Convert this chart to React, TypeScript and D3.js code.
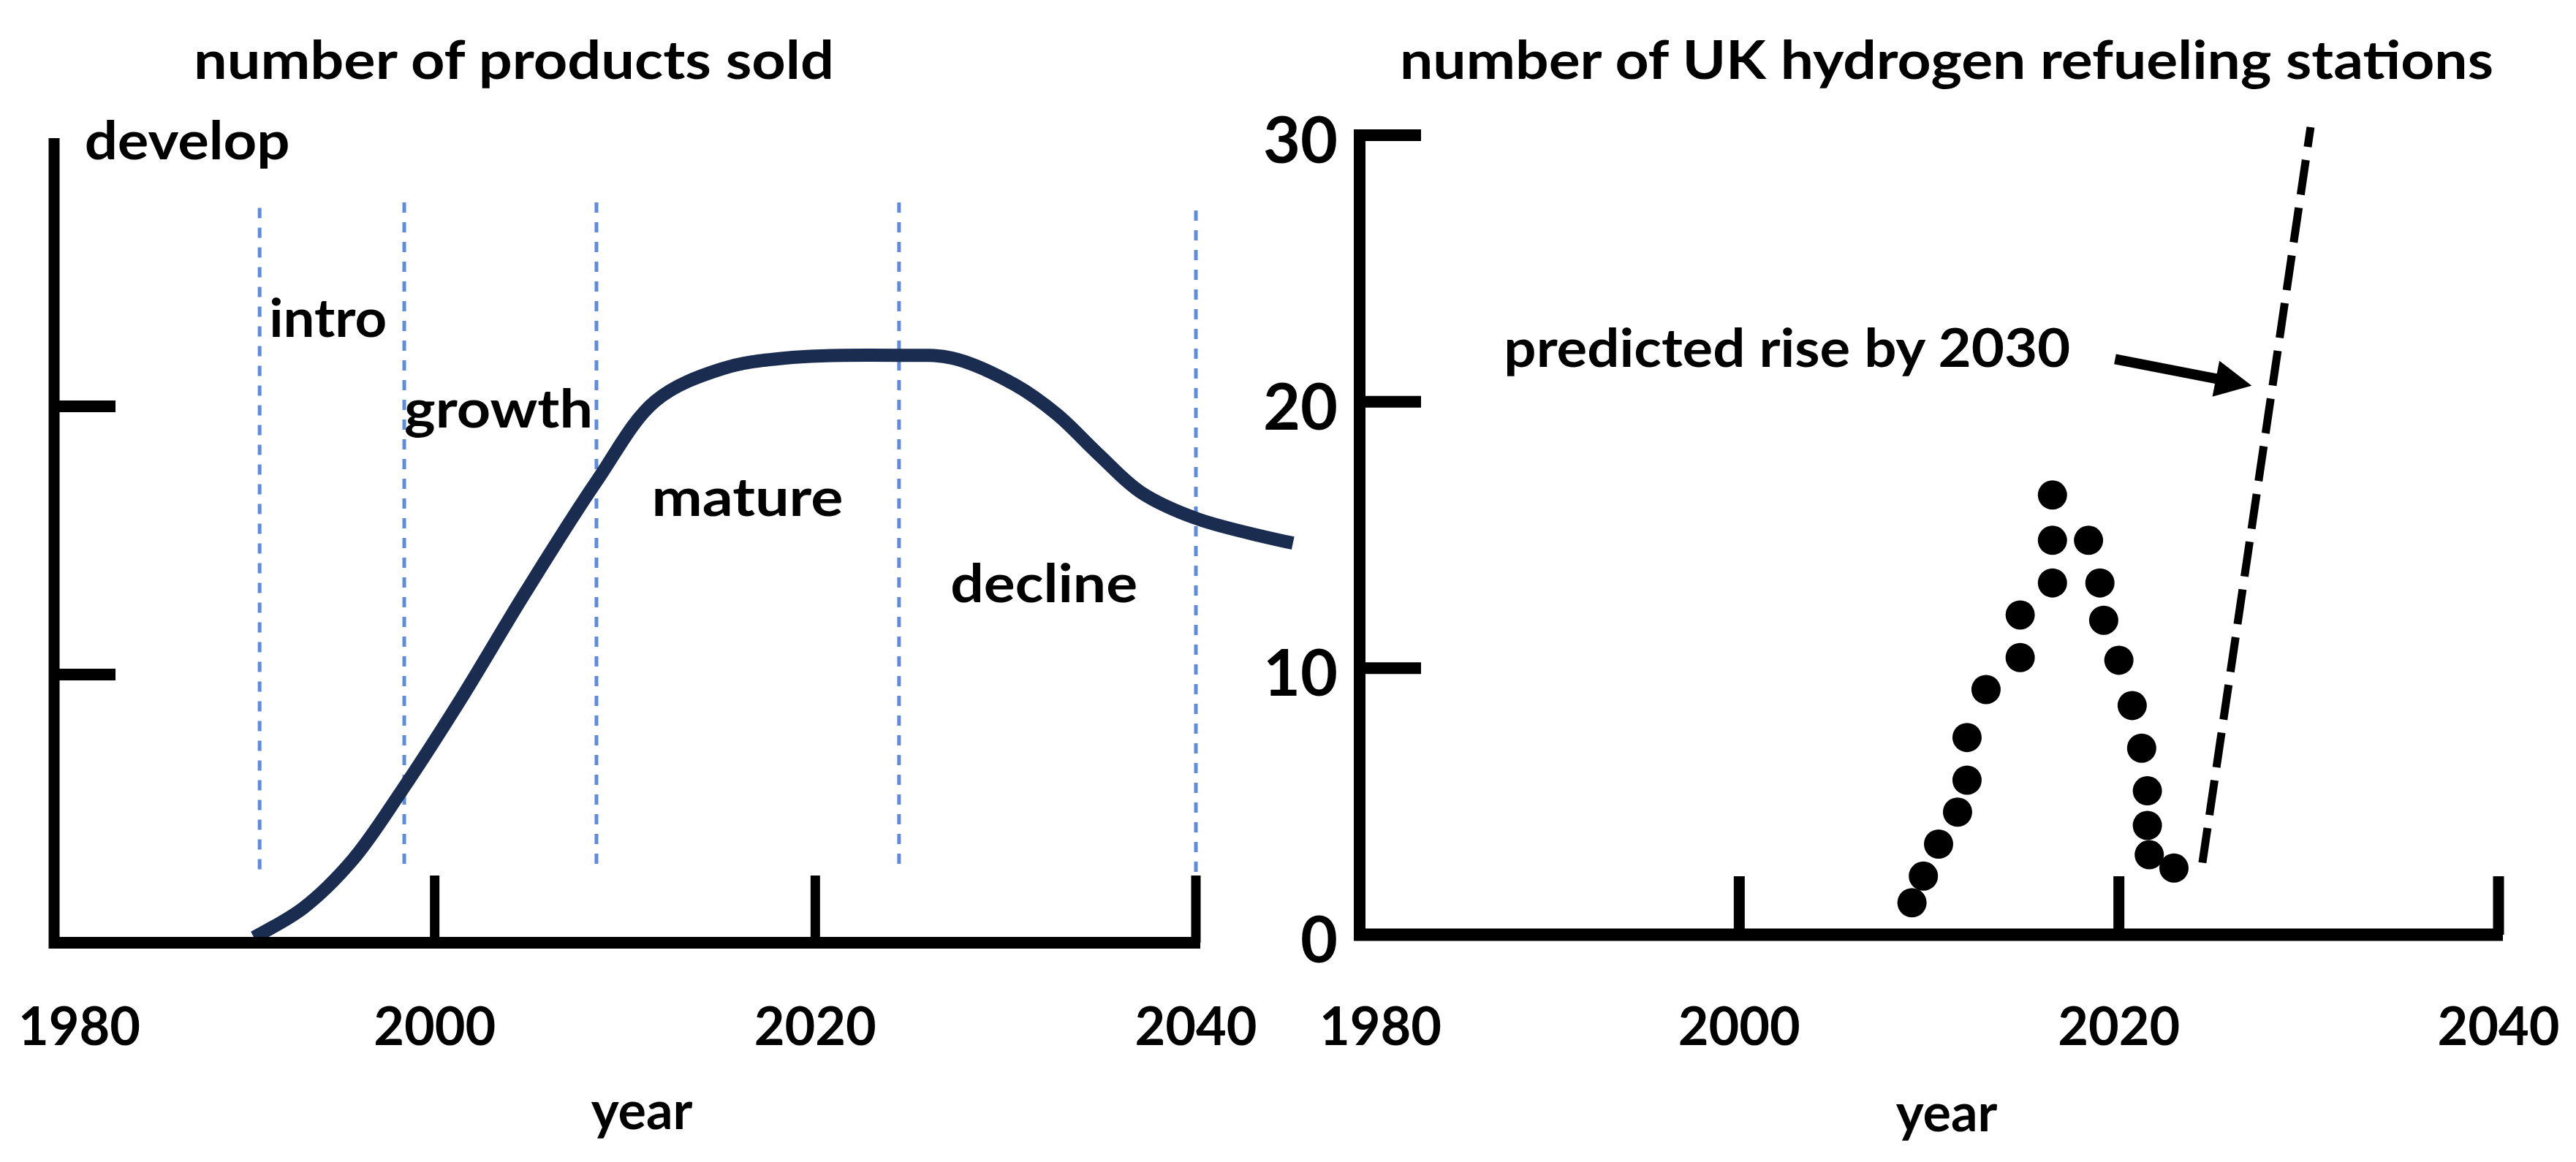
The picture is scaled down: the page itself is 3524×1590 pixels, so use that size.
import React from 'react';
import * as d3 from 'd3';

// ---- left chart: product life cycle (number of products sold) ----
const lifeYears = [1990.5, 1993.1, 1995.7, 1998.2, 2001.3, 2004.8, 2008.5, 2011.6, 2015.1, 2018.4, 2024.5, 2027.2, 2030.5, 2032.7, 2034.9, 2037.1, 2040.1, 2045.1];
const lifeSales = [0.2, 1.3, 3.1, 5.6, 9.0, 13.1, 17.2, 20.2, 21.4, 21.8, 21.9, 21.8, 20.8, 19.7, 18.2, 16.8, 15.8, 14.9];

// phase boundaries (dotted blue lines)
const phaseYears = [1990.8, 1998.4, 2008.5, 2024.4, 2040];
const phaseTop = [27.4, 27.6, 27.6, 27.6, 27.3];
const phaseBottom = [2.5, 2.6, 2.6, 2.6, 2.5];

// phase names and where they sit (year, sales units)
const phaseNames = ['develop', 'intro', 'growth', 'mature', 'decline'];
const phaseNameYears = [1981.6, 1991.3, 1998.4, 2011.4, 2027.1];
const phaseNameValues = [29.2, 22.6, 19.2, 15.9, 12.7];

const leftXTicks = [2000, 2020, 2040];
const leftYTicks = [10, 20];

// ---- right chart: UK hydrogen refueling stations ----
const stationYears = [2009.1, 2009.7, 2010.5, 2011.5, 2012.0, 2012.0, 2013.0, 2014.8, 2014.8, 2016.5, 2016.5, 2016.5, 2018.4, 2019.0, 2019.2, 2020.0, 2020.7, 2021.2, 2021.5, 2021.5, 2021.6, 2022.9];
const stationCounts = [1.2, 2.2, 3.4, 4.6, 5.8, 7.4, 9.2, 10.4, 12.0, 13.2, 14.8, 16.5, 14.8, 13.2, 11.8, 10.3, 8.6, 7.0, 5.4, 4.1, 3.0, 2.5];
const forecastYears = [2024.4, 2030.1];
const forecastCounts = [2.7, 30.3];
const arrowYears = [2019.8, 2027.0];
const arrowCounts = [21.6, 20.6];

const rightXTicks = [2000, 2020, 2040];
const rightYTicks = [0, 10, 20, 30];
const yearLabels = ['1980', '2000', '2020', '2040'];

const W = 3524;
const H = 1590;
const FONT = 'Lato, "Open Sans", sans-serif';
const NAVY = '#1a2c50';
const BLUE = '#4f7fd4';

export default function App() {
  const xL = d3.scaleLinear().domain([1980, 2040]).range([74, 1636]);
  const yL = d3.scaleLinear().domain([0, 30]).range([1290, 189]);
  const xR = d3.scaleLinear().domain([1980, 2040]).range([1860, 3418]);
  const yR = d3.scaleLinear().domain([0, 30]).range([1279, 185]);

  const lifePath = d3.line<number>()
    .x((d, i) => xL(lifeYears[i]))
    .y(d => yL(d))
    .curve(d3.curveCatmullRom.alpha(0.5))(lifeSales);

  const forecastPath = d3.line<number>()
    .x((d, i) => xR(forecastYears[i]))
    .y(d => yR(d))(forecastCounts);

  // arrow pointing at the forecast line
  const ax0 = xR(arrowYears[0]), ay0 = yR(arrowCounts[0]);
  const ax1 = xR(arrowYears[1]), ay1 = yR(arrowCounts[1]);
  const len = Math.hypot(ax1 - ax0, ay1 - ay0);
  const ux = (ax1 - ax0) / len, uy = (ay1 - ay0) / len;
  const headL = 50, headW = 25;
  const bx = ax1 - ux * headL, by = ay1 - uy * headL;
  const head = [
    [ax1, ay1],
    [bx - uy * headW, by + ux * headW],
    [bx + uy * headW, by - ux * headW],
  ].map(p => p.join(',')).join(' ');

  // widths the texts are stretched to
  const phaseWidths = [281, 161, 258, 262, 256];

  return (
    <div>
      <style>{`body{margin:0;background:#fff}`}</style>
      <svg width={W} height={H} viewBox={`0 0 ${W} ${H}`} style={{ display: 'block', background: '#fff' }}
        fontFamily={FONT} fontWeight={700}>

        {/* ---------- left chart ---------- */}
        <text x={265} y={108} fontSize={72} textLength={876} lengthAdjust="spacingAndGlyphs">number of products sold</text>

        {phaseYears.map((yr, i) => (
          <line key={'ph' + i} x1={xL(yr)} x2={xL(yr)} y1={yL(phaseTop[i])} y2={yL(phaseBottom[i])}
            stroke={BLUE} strokeWidth={5} strokeDasharray="14,13" opacity={0.9} />
        ))}

        {phaseNames.map((n, i) => (
          <text key={n} x={xL(phaseNameYears[i])} y={yL(phaseNameValues[i])} fontSize={72}
            textLength={phaseWidths[i]} lengthAdjust="spacingAndGlyphs">{n}</text>
        ))}

        <path d={lifePath || ''} fill="none" stroke={NAVY} strokeWidth={18} />

        {/* axes */}
        <line x1={xL(1980)} x2={xL(1980)} y1={yL(30)} y2={yL(0) + 8} stroke="#000" strokeWidth={15} />
        <line x1={xL(1980) - 7} x2={xL(2040) + 6} y1={yL(0)} y2={yL(0)} stroke="#000" strokeWidth={16} />
        {leftYTicks.map(t => (
          <line key={'ly' + t} x1={xL(1980)} x2={xL(1980) + 84} y1={yL(t)} y2={yL(t)} stroke="#000" strokeWidth={16} />
        ))}
        {leftXTicks.map(t => (
          <line key={'lx' + t} x1={xL(t)} x2={xL(t)} y1={yL(0)} y2={yL(0) - 92} stroke="#000" strokeWidth={13} />
        ))}
        {yearLabels.map((l, i) => (
          <text key={'lxl' + l} x={i === 0 ? xL(+l) - 49 : xL(+l)} y={1430} fontSize={72}
            textAnchor={i === 0 ? 'start' : 'middle'}>{l}</text>
        ))}
        <text x={(xL(1980) + xL(2040)) / 2 + 23} y={1545} fontSize={72} textAnchor="middle">year</text>

        {/* ---------- right chart ---------- */}
        <text x={1915} y={108} fontSize={72} textLength={1496} lengthAdjust="spacingAndGlyphs">number of UK hydrogen refueling stations</text>

        {stationYears.map((yr, i) => (
          <circle key={'st' + i} cx={xR(yr)} cy={yR(stationCounts[i])} r={20} fill="#000" />
        ))}

        <path d={forecastPath || ''} fill="none" stroke="#000" strokeWidth={11} strokeDasharray="48,18" />

        <line x1={ax0} y1={ay0} x2={bx + ux * 4} y2={by + uy * 4} stroke="#000" strokeWidth={14} />
        <polygon points={head} fill="#000" />
        <text x={xR(1987.6)} y={yR(21.3)} fontSize={72} textLength={775} lengthAdjust="spacingAndGlyphs">predicted rise by 2030</text>

        {/* axes */}
        <line x1={xR(1980)} x2={xR(1980)} y1={yR(30) - 8} y2={yR(0) + 8} stroke="#000" strokeWidth={16} />
        <line x1={xR(1980) - 8} x2={xR(2040) + 6} y1={yR(0)} y2={yR(0)} stroke="#000" strokeWidth={17} />
        {rightYTicks.filter(t => t > 0).map(t => (
          <line key={'ry' + t} x1={xR(1980)} x2={xR(1980) + 84} y1={yR(t)} y2={yR(t)} stroke="#000" strokeWidth={16} />
        ))}
        {rightYTicks.map(t => (
          <text key={'ryl' + t} x={xR(1980) - 30} y={yR(t) + 38} fontSize={88} textAnchor="end">{t}</text>
        ))}
        {rightXTicks.map(t => (
          <line key={'rx' + t} x1={xR(t)} x2={xR(t)} y1={yR(0)} y2={yR(0) - 80} stroke="#000" strokeWidth={15} />
        ))}
        {yearLabels.map((l, i) => (
          <text key={'rxl' + l} x={i === 0 ? xR(+l) - 55 : xR(+l)} y={1430} fontSize={72}
            textAnchor={i === 0 ? 'start' : 'middle'}>{l}</text>
        ))}
        <text x={(xR(1980) + xR(2040)) / 2 + 24} y={1548} fontSize={72} textAnchor="middle">year</text>
      </svg>
    </div>
  );
}
